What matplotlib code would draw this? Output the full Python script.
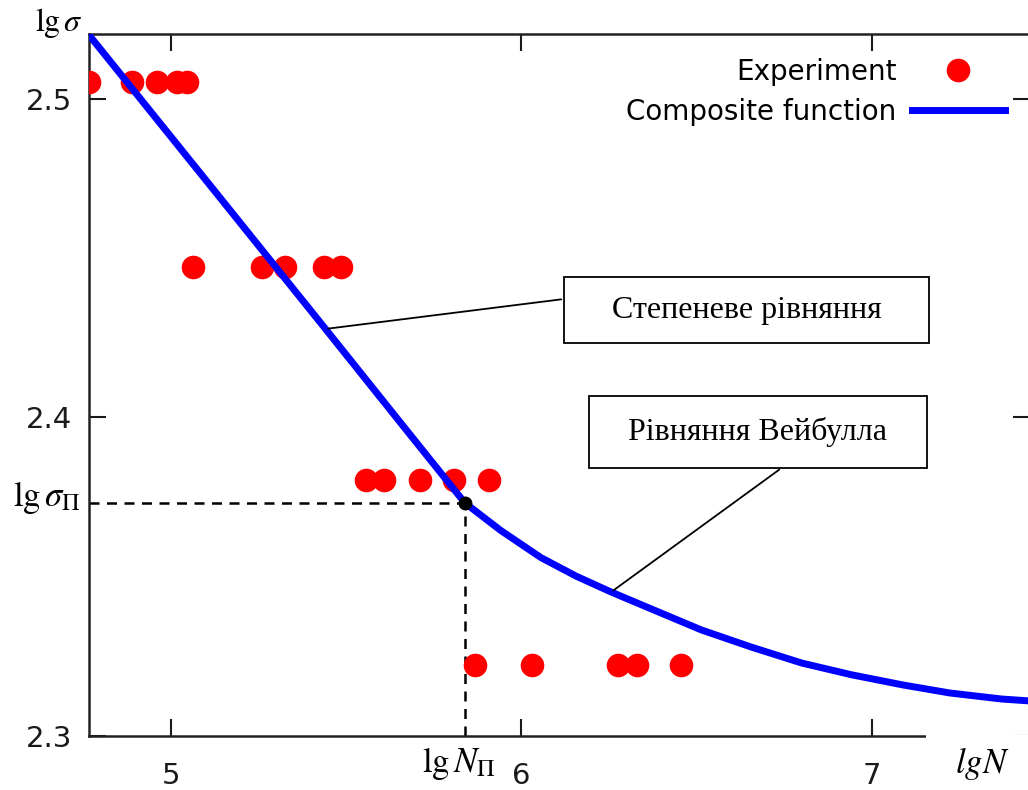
import matplotlib
matplotlib.use('Agg')
import matplotlib.pyplot as plt
from matplotlib.patches import Rectangle

plt.rcParams['mathtext.fontset'] = 'stix'

# experimental points (lgN, lg sigma)
exp_lgN = [4.765, 4.888, 4.960, 5.017, 5.046,
           5.063, 5.260, 5.326, 5.435, 5.484,
           5.555, 5.607, 5.710, 5.807, 5.907,
           5.867, 6.030, 6.276, 6.330, 6.456]
exp_lgS = [2.5053] * 5 + [2.4473] * 5 + [2.3804] * 5 + [2.3223] * 5

# composite function (power part, then Weibull part)
fit_lgN = [4.7654, 5.1402, 5.4406, 5.6552, 5.8383, 5.9413, 6.0558,
           6.1559, 6.2561, 6.3705, 6.5136, 6.6567, 6.8004, 6.9433,
           7.0904, 7.2232, 7.3720, 7.4521]
fit_lgS = [2.5201, 2.4689, 2.4278, 2.3983, 2.3732, 2.3645, 2.3560,
           2.3502, 2.3452, 2.3399, 2.3333, 2.3279, 2.3229, 2.3192,
           2.3160, 2.3135, 2.3116, 2.3110]

# knee point (lg N_П, lg sigma_П)
knee_idx = 4
x_ticks = [5, 6, 7]
y_ticks = [2.3, 2.4, 2.5]

fig = plt.figure(figsize=(10.28, 7.90), dpi=100)
ax = fig.add_axes([89 / 1028, 54 / 790, 1 - 89 / 1028 + 0.002, 702 / 790])

ax.plot(exp_lgN, exp_lgS, 'o', color='#ff0000', ms=17, mec='none',
        label='Experiment', zorder=3)
ax.plot(fit_lgN, fit_lgS, '-', color='#0000ff', lw=5, solid_joinstyle='round',
        label='Composite function', zorder=4)

kx, ky = fit_lgN[knee_idx], fit_lgS[knee_idx]
ax.plot([4.7654, kx], [ky, ky], color='black', lw=1.8, ls=(0, (4, 3)), zorder=2)
ax.plot([kx, kx], [2.3, ky], color='black', lw=1.8, ls=(0, (4, 3)), zorder=2)
ax.plot([kx], [ky], 'o', color='black', ms=9, zorder=5)

ax.set_xlim(4.7654, 7.452)
ax.set_ylim(2.3, 2.5204)
ax.set_xticks(x_ticks)
ax.set_yticks(y_ticks)
ax.set_yticklabels(['2.3', '2.4', '2.5'])
ax.tick_params(direction='in', length=12, width=1.5, labelsize=21,
               top=True, right=True, colors='#1a1a1a')
ax.tick_params(axis='x', pad=19)
ax.tick_params(axis='y', pad=12)
for s in ax.spines.values():
    s.set_linewidth(1.8)
    s.set_color('#222222')

leg = ax.legend(loc='upper right', bbox_to_anchor=(0.973, 0.966),
                markerfirst=False, frameon=False, fontsize=20,
                handlelength=3.35, handletextpad=0.55, labelspacing=0.42,
                borderpad=0, borderaxespad=0)

# annotation boxes
serif = 'Liberation Serif'
boxes = [((0.5048, 0.5598), 0.3877, 0.0940, 'Степеневе рівняння'),
         ((0.5314, 0.3818), 0.3589, 0.1025, 'Рівняння Вейбулла')]
for (bx, by), bw, bh, txt in boxes:
    ax.add_patch(Rectangle((bx, by), bw, bh, transform=ax.transAxes,
                           facecolor='white', edgecolor='black', lw=1.3, zorder=6))
    ax.text(bx + bw / 2, by + bh / 2, txt, transform=ax.transAxes,
            ha='center', va='center', fontsize=23, family=serif, zorder=7)

ax.annotate('', xy=(fit_lgN[2], fit_lgS[2]), xytext=(0.5048, 0.6225),
            textcoords='axes fraction',
            arrowprops=dict(arrowstyle='-', color='black', lw=1.3), zorder=6)
ax.annotate('', xy=(fit_lgN[8], fit_lgS[8]), xytext=(0.7359, 0.3818),
            textcoords='axes fraction',
            arrowprops=dict(arrowstyle='-', color='black', lw=1.3), zorder=6)

# white patch hiding the end of the bottom axis, with the lgN label
ax.add_patch(Rectangle(((924 - 89) / 939, -0.12), 0.2, 0.122,
                       transform=ax.transAxes, facecolor='white',
                       edgecolor='none', clip_on=False, zorder=10))
fig.text(982 / 1028, 1 - 764 / 790, r'$lgN$', ha='center', va='center',
         fontsize=25, zorder=11)

fig.text(59 / 1028, 1 - 23 / 790, r'$\mathrm{lg}\,\sigma$', ha='center',
         va='center', fontsize=23)
fig.text(47 / 1028, 1 - 497 / 790, r'$\mathrm{lg}\,\sigma_{\Pi}$', ha='center',
         va='center', fontsize=25)
fig.text(459 / 1028, 1 - 763 / 790, r'$\mathrm{lg}\,N_{\Pi}$', ha='center',
         va='center', fontsize=25)

fig.savefig('out.png', dpi=100)
